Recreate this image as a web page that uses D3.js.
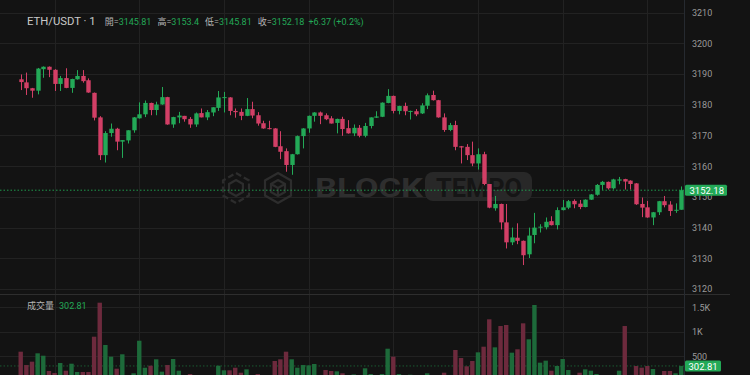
<!DOCTYPE html>
<html>
<head>
<meta charset="utf-8">
<script src="https://cdn.jsdelivr.net/npm/d3@7"></script>
<style>
  html, body { margin: 0; padding: 0; background: #131313; }
  svg { display: block; font-family: Roboto, "Noto Sans CJK TC", sans-serif; }
</style>
</head>
<body>
<div id="chart"></div>
<script>
// 1-minute candles, ETH/USDT
const opens = [3188.3,3187.3,3185.4,3184.6,3191.6,3192.4,3191.4,3186.8,3188.7,3185.5,3188.3,3189.4,3188.0,3183.9,3175.9,3163.6,3170.8,3172.2,3168.0,3168.4,
  3171.7,3175.6,3176.9,3180.6,3178.3,3180.1,3182.5,3173.6,3175.9,3176.4,3175.4,3173.6,3177.3,3175.9,3177.5,3179.0,3182.4,3182.4,3178.0,3177.7,
  3176.4,3178.6,3176.6,3174.0,3172.4,3172.3,3166.5,3164.9,3160.4,3163.9,3169.8,3172.3,3176.4,3177.5,3176.6,3175.6,3174.1,3175.4,3172.4,3170.7,
  3172.5,3169.9,3173.1,3175.8,3176.1,3180.6,3182.9,3178.0,3179.6,3177.7,3177.9,3177.2,3179.7,3183.2,3181.5,3175.9,3171.8,3173.4,3166.5,3166.3,
  3163.6,3160.9,3163.9,3154.2,3146.3,3147.7,3141.7,3135.2,3136.7,3135.7,3131.3,3137.6,3140.0,3140.1,3142.1,3140.8,3145.7,3146.5,3148.7,3147.8,
  3146.7,3149.1,3150.7,3153.9,3154.9,3152.8,3155.3,3155.8,3155.3,3154.4,3147.7,3146.6,3143.3,3145.0,3148.6,3147.5,3145.7,3145.81];
const highs = [3189.9,3190.5,3185.5,3192.0,3192.5,3192.5,3191.6,3189.4,3191.9,3188.5,3191.3,3191.3,3188.6,3184.0,3176.3,3171.4,3173.9,3172.5,3168.5,3171.7,
  3176.0,3180.8,3181.4,3180.7,3181.0,3185.8,3182.6,3176.1,3177.7,3176.4,3176.0,3177.5,3178.8,3178.3,3179.2,3184.5,3184.2,3182.5,3178.8,3178.8,
  3182.2,3181.0,3177.6,3174.8,3174.8,3172.4,3171.4,3165.8,3164.0,3170.0,3172.4,3176.5,3177.6,3177.8,3177.2,3176.3,3175.5,3176.1,3175.0,3173.6,
  3173.4,3174.1,3175.9,3177.9,3180.8,3185.1,3183.0,3179.7,3180.7,3178.1,3178.6,3180.5,3183.7,3184.6,3181.6,3177.2,3174.1,3174.8,3166.6,3167.2,
  3168.0,3165.8,3164.7,3154.2,3150.3,3147.8,3147.7,3140.0,3141.4,3135.8,3140.0,3144.8,3141.1,3143.3,3143.7,3146.6,3149.0,3149.0,3149.2,3149.0,
  3149.2,3150.9,3154.2,3155.2,3155.0,3155.9,3156.5,3155.9,3155.4,3154.5,3149.8,3148.7,3145.1,3148.7,3150.3,3148.6,3147.9,3153.4];
const lows = [3184.8,3183.2,3182.3,3183.4,3188.8,3189.0,3184.5,3184.5,3185.4,3183.9,3188.2,3187.2,3183.9,3174.9,3162.0,3161.2,3169.6,3165.2,3162.7,3167.4,
  3170.9,3175.5,3176.0,3176.6,3176.6,3180.0,3173.5,3172.5,3174.0,3174.5,3172.5,3172.8,3175.9,3175.0,3176.3,3178.0,3177.5,3176.6,3175.8,3175.0,
  3176.3,3175.6,3173.2,3172.2,3172.0,3166.2,3162.3,3158.2,3157.2,3163.8,3165.8,3170.9,3174.5,3173.7,3175.0,3173.9,3170.7,3169.9,3170.6,3169.8,
  3169.4,3169.4,3172.3,3175.7,3176.0,3180.5,3177.2,3176.9,3176.6,3175.2,3176.3,3177.0,3178.6,3181.4,3175.8,3171.2,3171.4,3165.2,3160.9,3162.0,
  3160.0,3158.9,3153.8,3146.3,3145.5,3139.4,3133.2,3134.3,3134.6,3127.8,3130.1,3134.9,3138.4,3139.4,3140.7,3139.4,3145.6,3146.0,3146.3,3146.0,
  3146.6,3149.0,3150.4,3152.3,3152.4,3152.4,3154.1,3152.4,3152.4,3147.4,3143.4,3143.2,3140.8,3144.1,3146.6,3143.8,3144.8,3145.81];
const closes = [3187.4,3185.4,3184.6,3191.8,3192.4,3191.4,3186.8,3188.7,3185.5,3188.4,3189.4,3187.7,3184.0,3175.8,3163.6,3170.8,3172.2,3168.0,3168.5,3171.7,
  3175.9,3176.9,3180.6,3178.3,3180.1,3182.5,3173.6,3176.0,3176.5,3175.3,3173.6,3177.2,3175.9,3177.6,3179.2,3182.4,3182.5,3178.0,3177.6,3176.4,
  3178.6,3176.5,3173.9,3172.3,3172.1,3166.3,3164.7,3160.4,3163.9,3169.8,3172.3,3176.4,3177.5,3176.4,3175.3,3173.9,3175.4,3172.1,3170.7,3172.5,
  3169.9,3173.1,3175.9,3176.2,3180.7,3182.9,3178.0,3179.6,3177.9,3178.0,3176.9,3179.8,3183.1,3181.5,3175.9,3171.8,3173.4,3166.3,3166.1,3163.6,
  3160.9,3163.9,3154.2,3146.5,3147.7,3141.7,3135.2,3136.8,3135.7,3131.0,3137.4,3140.0,3140.3,3141.9,3140.8,3145.7,3146.6,3148.6,3147.6,3146.7,
  3149.1,3150.8,3153.9,3154.9,3152.8,3155.7,3155.7,3155.0,3154.2,3147.6,3146.5,3143.3,3145.0,3148.6,3147.3,3145.4,3145.8,3152.18];
const volumes = [594,322,390,561,512,200,159,363,206,349,180,180,180,900,1594,731,492,247,541,100,
  153,818,267,308,439,186,322,445,206,100,139,100,90,95,100,308,214,214,267,165,
  234,100,139,100,100,404,439,594,439,268,322,315,343,100,220,200,193,153,100,130,
  100,255,139,100,139,655,492,139,100,125,100,100,153,100,100,165,100,629,465,296,
  404,581,696,1255,683,1118,1139,574,643,1173,847,1547,370,411,206,302,445,220,118,165,
  234,206,139,100,100,100,206,1118,100,302,268,302,241,100,200,200,153,302.81];

const priceTicks = [3120,3130,3140,3150,3160,3170,3180,3190,3200,3210];
const volTicks = [500,1000,1500];
const volTickLabels = ["500","1K","1.5K"];

const W = 750, H = 375;
const PLOT_R = 684.5;
const UP = "#23a957", DOWN = "#d23f66";
const UP_VOL = "#1d6a3a", DOWN_VOL = "#6d2a3d";

const candles = opens.map((o, i) => ({ i: i, o: o, h: highs[i], l: lows[i], c: closes[i], v: volumes[i] }));
const last = candles[candles.length - 1];

const svg = d3.select("#chart").append("svg")
  .attr("width", W).attr("height", H);

svg.append("rect").attr("width", W).attr("height", H).attr("fill", "#131313");

const x = d3.scaleLinear().domain([0, candles.length - 1]).range([20.7, 681.2]);
const y = d3.scaleLinear().domain([3120, 3210]).range([289, 12.7]);
const yv = d3.scaleLinear().domain([0, 1500]).range([380.8, 307.3]);

// grid
const grid = svg.append("g").attr("stroke", "#222").attr("stroke-width", 1);
grid.selectAll(".hp").data(priceTicks).enter().append("line")
  .attr("x1", 0).attr("x2", PLOT_R)
  .attr("y1", d => Math.round(y(d)) + 0.5).attr("y2", d => Math.round(y(d)) + 0.5);
grid.selectAll(".hv").data(volTicks).enter().append("line")
  .attr("x1", 0).attr("x2", PLOT_R)
  .attr("y1", d => Math.round(yv(d)) + 0.5).attr("y2", d => Math.round(yv(d)) + 0.5);
const vIdx = d3.range(6, candles.length, 15);
grid.selectAll(".vg").data(vIdx).enter().append("line")
  .attr("x1", d => Math.round(x(d)) + 0.5).attr("x2", d => Math.round(x(d)) + 0.5)
  .attr("y1", 0).attr("y2", H);

// watermark
const wm = svg.append("g").attr("fill", "none").attr("stroke", "#2d2d2d").attr("stroke-width", 2.2);
function hexPath(cx, cy, r) {
  const pts = d3.range(6).map(k => {
    const a = Math.PI / 3 * k - Math.PI / 2;
    return [cx + r * Math.cos(a), cy + r * Math.sin(a)];
  });
  return d3.line()(pts) + "Z";
}
wm.append("path").attr("d", hexPath(236, 188, 15)).attr("stroke-dasharray", "6,3");
wm.append("path").attr("d", hexPath(236, 188, 8));
wm.append("path").attr("d", hexPath(278, 188, 15));
wm.append("path").attr("d", "M271,184 L278,180 L285,184 L285,192 L278,196 L271,192 Z M271,184 L278,188 L285,184 M278,188 L278,196");
svg.append("text").attr("x", 315).attr("y", 197).attr("fill", "#2e2e2e")
  .attr("font-size", 26).attr("font-weight", 700)
  .attr("textLength", 108).attr("lengthAdjust", "spacingAndGlyphs")
  .attr("font-family", "Roboto, sans-serif").text("BLOCK");
svg.append("rect").attr("x", 425).attr("y", 172).attr("width", 107).attr("height", 29).attr("rx", 8)
  .attr("fill", "#282828");
svg.append("text").attr("x", 436).attr("y", 197).attr("fill", "#151515")
  .attr("font-size", 25).attr("font-weight", 700)
  .attr("textLength", 86).attr("lengthAdjust", "spacingAndGlyphs")
  .attr("font-family", "Roboto, sans-serif").text("TEMPO");

// pane separator and right axis border
svg.append("line").attr("x1", 0).attr("x2", 730).attr("y1", 294.5).attr("y2", 294.5)
  .attr("stroke", "#2e2e2e");
svg.append("line").attr("x1", PLOT_R).attr("x2", PLOT_R).attr("y1", 0).attr("y2", H)
  .attr("stroke", "#262a30");

// last price dotted lines
svg.append("line").attr("x1", 0).attr("x2", PLOT_R)
  .attr("y1", y(last.c)).attr("y2", y(last.c))
  .attr("stroke", "#1f9a4c").attr("stroke-dasharray", "1.5,2");
svg.append("line").attr("x1", 0).attr("x2", PLOT_R)
  .attr("y1", yv(last.v)).attr("y2", yv(last.v))
  .attr("stroke", "#1a5a32").attr("stroke-dasharray", "1.5,2");

// volume bars
const volG = svg.append("g");
volG.selectAll("rect").data(candles).enter().append("rect")
  .attr("x", d => x(d.i) - 2.2)
  .attr("width", 4.4)
  .attr("y", d => yv(d.v))
  .attr("height", d => Math.max(0, H - yv(d.v)))
  .attr("fill", d => d.c >= d.o ? UP_VOL : DOWN_VOL);

// candles
const cg = svg.append("g").selectAll("g").data(candles).enter().append("g");
cg.append("line")
  .attr("x1", d => Math.round(x(d.i)) + 0.5).attr("x2", d => Math.round(x(d.i)) + 0.5)
  .attr("y1", d => y(d.h)).attr("y2", d => y(d.l))
  .attr("stroke", d => d.c >= d.o ? UP : DOWN).attr("stroke-width", 1);
cg.append("rect")
  .attr("x", d => Math.round(x(d.i)) + 0.5 - 2.2)
  .attr("width", 4.4)
  .attr("y", d => y(Math.max(d.o, d.c)))
  .attr("height", d => Math.max(1, Math.abs(y(d.o) - y(d.c))))
  .attr("fill", d => d.c >= d.o ? UP : DOWN);

// right axes
const axisG = svg.append("g").attr("font-size", 9).attr("fill", "#9a9a9a");
axisG.selectAll(".pt").data(priceTicks).enter().append("text")
  .attr("x", 692).attr("y", d => y(d) + 3.3).text(d => d);
axisG.selectAll(".vt").data(volTicks).enter().append("text")
  .attr("x", 692).attr("y", d => yv(d) + 3.3).text((d, k) => volTickLabels[k]);

// last value badges
svg.append("rect").attr("x", 685).attr("y", y(last.c) - 5.5).attr("width", 42).attr("height", 11)
  .attr("rx", 1.5).attr("fill", "#23a957");
svg.append("text").attr("x", 689.5).attr("y", y(last.c) + 3.6).attr("font-size", 9.5)
  .attr("fill", "#fff").text(last.c.toFixed(2));
svg.append("rect").attr("x", 685).attr("y", yv(last.v) - 5.5).attr("width", 36).attr("height", 11)
  .attr("rx", 1.5).attr("fill", "#23a957");
svg.append("text").attr("x", 688.5).attr("y", yv(last.v) + 3.6).attr("font-size", 9.5)
  .attr("fill", "#fff").text(last.v.toFixed(2));

// header legend
const chg = last.c - last.o;
const header = svg.append("text").attr("x", 27).attr("y", 25).attr("fill", "#c9c9c9");
header.append("tspan").attr("font-size", 11.3).text("ETH/USDT · 1");
const parts = [["開", last.o.toFixed(2)], ["高", String(last.h)], ["低", last.l.toFixed(2)], ["收", last.c.toFixed(2)]];
parts.forEach((p, k) => {
  header.append("tspan").attr("font-size", 9).attr("dx", k === 0 ? 9 : 6).attr("fill", "#b5b5b5").text(p[0] + "=");
  header.append("tspan").attr("font-size", 9).attr("fill", UP).text(p[1]);
});
header.append("tspan").attr("font-size", 9).attr("dx", 4).attr("fill", UP)
  .text("+" + chg.toFixed(2) + " (+" + (chg / last.o * 100).toFixed(1) + "%)");

const volLabel = svg.append("text").attr("x", 27).attr("y", 309).attr("font-size", 9);
volLabel.append("tspan").attr("fill", "#b5b5b5").text("成交量");
volLabel.append("tspan").attr("dx", 5).attr("fill", UP).text(last.v.toFixed(2));
</script>
</body>
</html>
